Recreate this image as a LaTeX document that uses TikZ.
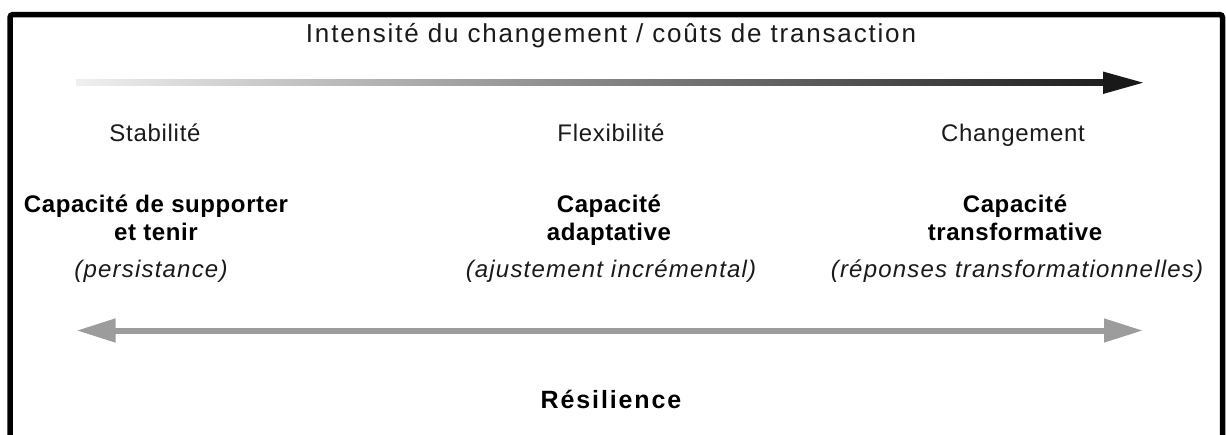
\documentclass[tikz,border=0pt]{standalone}
\usepackage{fontspec}
\setmainfont{Liberation Sans}
\newfontfamily\titlef[LetterSpace=7]{Liberation Sans}
\newfontfamily\labf[LetterSpace=3]{Liberation Sans}
\newfontfamily\boldf[LetterSpace=2.5]{Liberation Sans Bold}
\newfontfamily\itf[LetterSpace=5]{Liberation Sans Italic}
\newfontfamily\resf[LetterSpace=7.5]{Liberation Sans Bold}
\usetikzlibrary{arrows.meta,shadings}
\definecolor{txt}{HTML}{1A1A1A}
\definecolor{arrgray}{HTML}{9C9C9C}
\tikzset{
  ttltxt/.style={anchor=base,inner sep=0pt,text=txt,font=\titlef\fontsize{26}{30}\selectfont},
  labtxt/.style={anchor=base,inner sep=0pt,text=txt,font=\labf\fontsize{24}{28}\selectfont},
  captxt/.style={anchor=base,inner sep=0pt,text=black,align=center,font=\boldf\fontsize{24}{28}\selectfont},
  partxt/.style={anchor=base,inner sep=0pt,text=txt,font=\itf\fontsize{24}{28}\selectfont},
  restxt/.style={anchor=base,inner sep=0pt,text=black,font=\resf\fontsize{25}{28}\selectfont},
  framestyle/.style={line width=5.5pt,black,rounded corners=3pt},
}
\begin{document}
\begin{tikzpicture}[x=1pt,y=-1pt]
\useasboundingbox (0,0) rectangle (1226,434);
% frame (open at bottom)
\coordinate (fbl) at (10,440);
\coordinate (ftl) at (10,14.5);
\coordinate (ftr) at (1222.5,14.5);
\coordinate (fbr) at (1222.5,440);
\draw[framestyle] (fbl) -- (ftl) -- (ftr) -- (fbr);
% title
\node[ttltxt] (title) at (611,42) {Intensité du changement / coûts de transaction};
% gradient arrow
\coordinate (gt) at (1143,82.7);
\shade[left color=black!6,right color=black!88] (76,79.7) rectangle (1104,85.7);
\fill[black!90] (1103,71.5) -- (gt) -- (1103,94) -- cycle;
% column headers
\node[labtxt] (stab) at (155,141.5) {Stabilité};
\node[labtxt] (flex) at (611,141.5) {Flexibilité};
\node[labtxt] (chg) at (1013,141.5) {Changement};
% capacities
\node[captxt] (c1a) at (156,212) {Capacité de supporter};
\node[captxt] (c1b) at (156,240) {et tenir};
\node[partxt] (p1) at (151,277) {(persistance)};
\node[captxt] (c2a) at (609,212) {Capacité};
\node[captxt] (c2b) at (609,240) {adaptative};
\node[partxt] (p2) at (611,277) {(ajustement incrémental)};
\node[captxt] (c3a) at (1015,212) {Capacité};
\node[captxt] (c3b) at (1015,240) {transformative};
\node[partxt] (p3) at (1017,277) {(réponses transformationnelles)};
% double arrow
\coordinate (dl) at (76.5,330.5);
\coordinate (dr) at (1143,330.5);
\draw[arrgray,line width=6pt,{Triangle[length=39pt,width=22.5pt]}-{Triangle[length=39pt,width=22.5pt]}] (dl) -- (dr);
% resilience
\node[restxt] (res) at (611,408) {Résilience};
\end{tikzpicture}
\end{document}
